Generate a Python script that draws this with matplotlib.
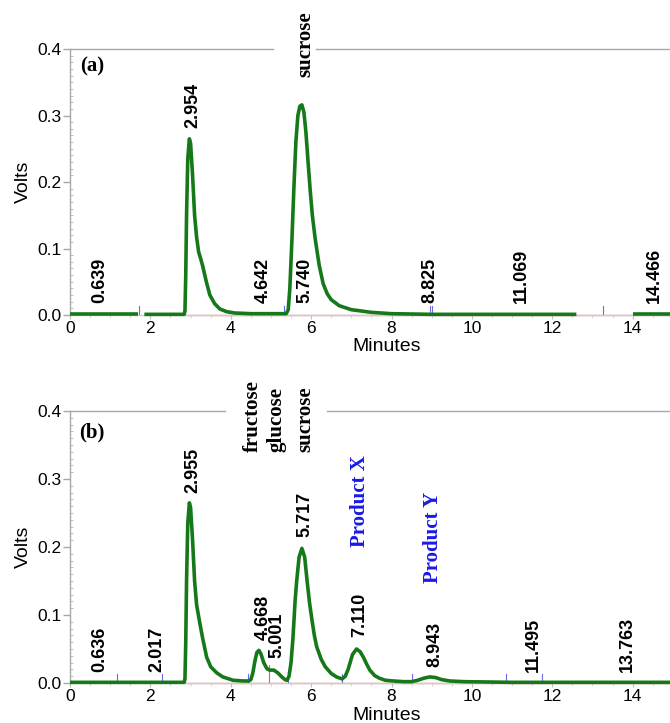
import matplotlib
matplotlib.use("Agg")
import matplotlib.pyplot as plt
from matplotlib.ticker import MultipleLocator, FormatStrFormatter

# ---------------- data ----------------
# Panel (a): chromatogram, drawn as three segments (detector gaps)
a_seg1_t = [0.0, 0.5, 1.0, 1.70]
a_seg1_v = [0.001, 0.001, 0.001, 0.001]
a_seg2_t = [1.85, 2.5, 2.84, 2.86, 2.88, 2.90, 2.93, 2.97, 3.00, 3.05, 3.10, 3.15,
            3.20, 3.25, 3.30, 3.40, 3.48, 3.60, 3.73, 3.90, 4.10, 4.50, 5.00, 5.38,
            5.43, 5.47, 5.52, 5.57, 5.62, 5.67, 5.72, 5.77, 5.82, 5.87, 5.93, 5.98,
            6.03, 6.10, 6.20, 6.30, 6.40, 6.50, 6.70, 7.00, 7.50, 8.00, 9.00, 10.5, 12.6]
a_seg2_v = [0.001, 0.001, 0.001, 0.006, 0.06, 0.15, 0.235, 0.265, 0.258, 0.21, 0.15, 0.117,
            0.095, 0.085, 0.074, 0.048, 0.030, 0.017, 0.009, 0.005, 0.003, 0.002, 0.002, 0.002,
            0.008, 0.04, 0.11, 0.19, 0.26, 0.300, 0.314, 0.316, 0.305, 0.275, 0.225, 0.185,
            0.15, 0.115, 0.075, 0.047, 0.032, 0.023, 0.014, 0.008, 0.004, 0.002, 0.001, 0.001, 0.001]
a_seg3_t = [14.0, 14.5, 14.93]
a_seg3_v = [0.001, 0.001, 0.001]

# Panel (b): chromatogram
b_t = [0.0, 1.0, 2.0, 2.84, 2.86, 2.88, 2.90, 2.93, 2.97, 3.00, 3.05, 3.10, 3.15,
       3.23, 3.30, 3.40, 3.50, 3.65, 3.80, 4.06, 4.30, 4.45, 4.50, 4.55, 4.60, 4.65,
       4.70, 4.75, 4.82, 4.90, 4.97, 5.07, 5.17, 5.27, 5.35, 5.40, 5.45, 5.50, 5.55,
       5.60, 5.64, 5.70, 5.77, 5.84, 5.90, 5.96, 6.02, 6.08, 6.14, 6.25, 6.35, 6.50,
       6.63, 6.77, 6.85, 6.92, 6.97, 7.03, 7.13, 7.22, 7.30, 7.38, 7.46, 7.58, 7.70,
       7.85, 8.04, 8.30, 8.50, 8.65, 8.80, 8.95, 9.10, 9.25, 9.45, 9.80, 11.0, 13.0, 14.93]
b_v = [0.001, 0.001, 0.001, 0.001, 0.006, 0.06, 0.15, 0.235, 0.265, 0.258, 0.21, 0.15, 0.115,
       0.088, 0.066, 0.038, 0.024, 0.015, 0.009, 0.004, 0.003, 0.003, 0.005, 0.015, 0.032, 0.045,
       0.048, 0.043, 0.030, 0.021, 0.019, 0.019, 0.015, 0.009, 0.005, 0.004, 0.010, 0.030, 0.068,
       0.12, 0.15, 0.185, 0.198, 0.185, 0.15, 0.118, 0.093, 0.070, 0.053, 0.035, 0.024, 0.014,
       0.009, 0.006, 0.010, 0.020, 0.030, 0.042, 0.050, 0.046, 0.038, 0.028, 0.019, 0.011, 0.007,
       0.004, 0.003, 0.002, 0.002, 0.004, 0.007, 0.009, 0.008, 0.005, 0.003, 0.002, 0.001, 0.001, 0.001]

# retention-time labels: (text, x, y)
a_rt_labels = ["0.639", "2.954", "4.642", "5.740", "8.825", "11.069", "14.466"]
a_rt_x = [0.75, 3.06, 4.80, 5.85, 8.96, 11.24, 14.55]
a_rt_y = [0.018, 0.281, 0.018, 0.018, 0.018, 0.018, 0.018]
b_rt_labels = ["0.636", "2.017", "2.955", "4.668", "5.001", "5.717", "7.110", "8.943", "11.495", "13.763"]
b_rt_x = [0.75, 2.16, 3.06, 4.80, 5.15, 5.85, 7.21, 9.08, 11.54, 13.88]
b_rt_y = [0.016, 0.016, 0.280, 0.063, 0.037, 0.215, 0.068, 0.024, 0.016, 0.016]

# compound names
a_names = ["sucrose"]
a_names_x = [5.85]
a_names_y = [0.358]
b_names = ["fructose", "glucose", "sucrose"]
b_names_x = [4.55, 5.15, 5.85]
b_names_y = [0.34, 0.34, 0.34]
b_products = ["Product X", "Product Y"]
b_products_x = [7.21, 9.03]
b_products_y = [0.20, 0.147]

# integration event markers
a_marks = [1.72, 5.33, 8.97, 9.01, 13.26]
b_marks = [1.16, 2.29, 4.43, 5.42, 6.76, 8.50, 10.85, 11.74]
b_red_marks = [4.96]
baseline_start = [2.85, 2.85]

panels = ["(a)", "(b)"]

# ---------------- figure ----------------
GREEN = "#15791a"
GRAY = "#a8a8a8"
BLUE = "#1a1ae6"
SANS = "Liberation Sans"
SERIF = "Liberation Serif"

fig = plt.figure(figsize=(6.7, 7.23), dpi=100)
ax_a = fig.add_axes([0.1045, 0.5643, 0.8955, 0.3679])
ax_b = fig.add_axes([0.1045, 0.0553, 0.8955, 0.3762])


def style_axes(ax, gap, bstart, xlab_y):
    ax.set_xlim(0, 14.93)
    ax.set_ylim(0, 0.4)
    for s in ["top", "right"]:
        ax.spines[s].set_visible(False)
    ax.spines["left"].set_color(GRAY)
    ax.spines["bottom"].set_color("#cccccc")
    ax.spines["left"].set_linewidth(1.0)
    ax.spines["bottom"].set_linewidth(1.0)
    # top frame line with gap for labels
    ax.plot([0, gap[0]], [1, 1], transform=ax.transAxes, color=GRAY, lw=1.0, clip_on=False)
    ax.plot([gap[1], 1], [1, 1], transform=ax.transAxes, color=GRAY, lw=1.0, clip_on=False)
    ax.yaxis.set_major_locator(MultipleLocator(0.1))
    ax.yaxis.set_major_formatter(FormatStrFormatter("%.1f"))
    ax.yaxis.set_minor_locator(MultipleLocator(0.01))
    ax.xaxis.set_major_locator(MultipleLocator(2))
    ax.xaxis.set_minor_locator(MultipleLocator(0.5))
    ax.tick_params(axis="y", which="major", direction="out", length=5, width=1,
                   color=GRAY, labelsize=12.5, pad=1)
    ax.tick_params(axis="y", which="minor", direction="in", length=2.5, width=0.7, color="#c0c0c0")
    ax.tick_params(axis="x", which="major", direction="out", length=3, width=0.8,
                   color="#c0c0c0", labelsize=12.5, pad=1)
    ax.tick_params(axis="x", which="minor", direction="out", length=2, width=0.6, color="#d0d0d0")
    for lab in ax.get_xticklabels() + ax.get_yticklabels():
        lab.set_family(SANS)
    ax.set_ylabel("Volts", fontsize=14, family=SANS, labelpad=4)
    ax.set_xlabel("Minutes", fontsize=14, family=SANS)
    ax.xaxis.set_label_coords(0.528, xlab_y)
    # pink baseline
    ax.plot([bstart[0], 14.93], [0, 0], color="#e8a0a0", lw=1.0, zorder=2, clip_on=False)


style_axes(ax_a, (0.338, 0.41), baseline_start, -0.088)
style_axes(ax_b, (0.258, 0.428), baseline_start, -0.088)

# curves
for t, v in [(a_seg1_t, a_seg1_v), (a_seg2_t, a_seg2_v), (a_seg3_t, a_seg3_v)]:
    ax_a.plot(t, v, color=GREEN, lw=2.6, solid_capstyle="butt", zorder=4, clip_on=False)
ax_b.plot(b_t, b_v, color=GREEN, lw=2.6, solid_capstyle="butt", zorder=4, clip_on=False)

# event markers
for m in a_marks:
    ax_a.plot([m, m], [0, 0.013], color="#6a6af0", lw=0.8, zorder=3)
for m in b_marks:
    ax_b.plot([m, m], [0, 0.013], color="#6a6af0", lw=0.8, zorder=3)
for m in b_red_marks:
    ax_b.plot([m, m], [0, 0.027], color="#e06060", lw=0.8, zorder=3)

# retention time labels
for txt, x, y in zip(a_rt_labels, a_rt_x, a_rt_y):
    ax_a.text(x, y, txt, rotation=90, ha="center", va="bottom", fontsize=13,
              fontweight="bold", family=SANS, zorder=5)
for txt, x, y in zip(b_rt_labels, b_rt_x, b_rt_y):
    ax_b.text(x, y, txt, rotation=90, ha="center", va="bottom", fontsize=13,
              fontweight="bold", family=SANS, zorder=5)

# compound names
for txt, x, y in zip(a_names, a_names_x, a_names_y):
    ax_a.text(x, y, txt, rotation=90, ha="center", va="bottom", fontsize=15,
              fontweight="bold", family=SERIF, clip_on=False, zorder=5)
for txt, x, y in zip(b_names, b_names_x, b_names_y):
    ax_b.text(x, y, txt, rotation=90, ha="center", va="bottom", fontsize=15,
              fontweight="bold", family=SERIF, clip_on=False, zorder=5)
for txt, x, y in zip(b_products, b_products_x, b_products_y):
    ax_b.text(x, y, txt, rotation=90, ha="center", va="bottom", fontsize=15,
              fontweight="bold", family=SERIF, color=BLUE, zorder=5)

# panel letters
ax_a.text(0.54, 0.374, panels[0], ha="center", va="center", fontsize=15,
          fontweight="bold", family=SERIF)
ax_b.text(0.54, 0.369, panels[1], ha="center", va="center", fontsize=15,
          fontweight="bold", family=SERIF)

fig.savefig("out.png", dpi=100)
